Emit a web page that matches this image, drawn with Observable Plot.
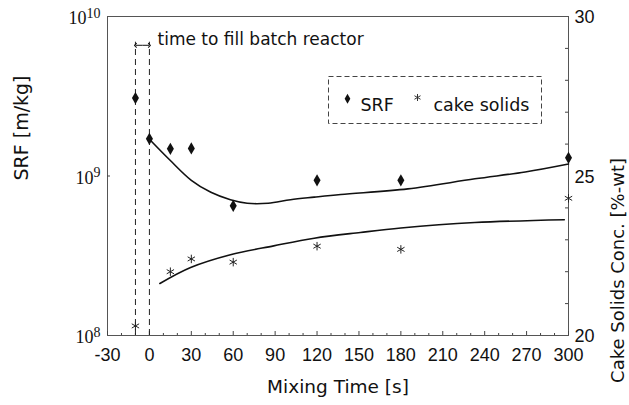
<!DOCTYPE html>
<html><head><meta charset="utf-8">
<script src="https://cdn.jsdelivr.net/npm/d3@7"></script>
<script src="https://cdn.jsdelivr.net/npm/@observablehq/plot@0.6"></script>
<style>body{margin:0;background:#fff}</style>
</head><body><div id="chart"></div>
<script>
// ---- data ----
const srfTime  = [-10, 0, 15, 30, 60, 120, 180, 300];
const srfValue = [3.08e9, 1.71e9, 1.48e9, 1.49e9, 6.5e8, 9.4e8, 9.4e8, 1.30e9];
const cakeTime  = [-10, 15, 30, 60, 120, 180, 300];
const cakeValue = [20.3, 22.0, 22.4, 22.3, 22.8, 22.7, 24.3];
const srfFitTime  = [0, 15, 30, 44, 58, 70, 85, 101, 118, 137, 185, 233, 269, 300];
const srfFitValue = [1.70e9, 1.25e9, 9.4e8, 7.9e8, 7.1e8, 6.75e8, 6.75e8, 7.1e8, 7.37e8, 7.66e8, 8.3e8, 9.6e8, 1.06e9, 1.19e9];
const cakeFitTime  = [7.5, 29.5, 58, 89, 118, 151, 180, 233, 297];
const cakeFitValue = [21.63, 22.13, 22.53, 22.81, 23.05, 23.23, 23.37, 23.54, 23.63];
const xTicks = [-30, 0, 30, 60, 90, 120, 150, 180, 210, 240, 270, 300];
const xMinorTicks = [-20, -10, 10, 20, 40, 50, 70, 80, 100, 110, 130, 140, 160, 170, 190, 200, 220, 230, 250, 260, 280, 290];
const srfTicks = [1e8, 1e9, 1e10];
const cakeTicks = [20, 25, 30];
const cakeMinorTicks = [21, 22, 23, 24, 26, 27, 28, 29];
const fillStart = -10, fillEnd = 0, fillTop = 6.9e9, fillArrowY = 6.6e9;
const legendLabels = ["SRF", "cake solids"];
const xTitle = "Mixing Time [s]";
const yTitle = "SRF [m/kg]";
const y2Title = "Cake Solids Conc. [%-wt]";
const note = "time to fill batch reactor";

// right axis (20–30 %-wt) mapped onto the left log scale
const cakeToY = v => Math.pow(10, 8 + (v - 20) / 5);
const yToCake = y => Math.round(20 + 5 * (Math.log10(y) - 8));

const srf = srfTime.map((t, i) => ({t, v: srfValue[i]}));
const cake = cakeTime.map((t, i) => ({t, v: cakeValue[i]}));
const srfFit = srfFitTime.map((t, i) => ({t, v: srfFitValue[i]}));
const cakeFit = cakeFitTime.map((t, i) => ({t, v: cakeFitValue[i]}));

const W = 629, H = 405, mL = 107, mR = 61, mT = 16, mB = 70;
const innerW = W - mL - mR, innerH = H - mT - mB;
const ink = "#111";
const sans = "DejaVu Sans";

const chart = Plot.plot({
  width: W, height: H,
  marginLeft: mL, marginRight: mR, marginTop: mT, marginBottom: mB,
  style: {background: "#fff", color: ink},
  x: {domain: [-30, 300]},
  y: {type: "log", domain: [1e8, 1e10]},
  marks: [
    Plot.frame({stroke: "#555"}),
    Plot.tickX(xMinorTicks, {x: d => d, insetTop: innerH - 2, stroke: "#444"}),
    Plot.tickX(xTicks, {x: d => d, insetTop: innerH - 4, stroke: "#444"}),
    Plot.tickY(cakeMinorTicks.map(cakeToY), {y: d => d, insetLeft: innerW - 3, stroke: "#444"}),
    Plot.tickY([1e9], {y: d => d, insetRight: innerW - 3, stroke: "#444"}),
    Plot.axisX(xTicks, {tickSize: 0, tickPadding: 13, fontSize: 18, fontFamily: "Liberation Sans", label: null, fill: ink,
      tickFormat: d => String(d)}),
    Plot.axisY(srfTicks, {anchor: "left", tickSize: 0, tickPadding: 7, fontSize: 19, fontFamily: "Liberation Serif",
      tickFormat: d => "10^" + Math.round(Math.log10(d)), label: null, fill: ink, dy: 2}),
    Plot.axisY(cakeTicks.map(cakeToY), {anchor: "right", tickSize: 0, tickPadding: 6, fontSize: 18, fontFamily: "Liberation Sans",
      tickFormat: d => String(yToCake(d)), label: null, fill: ink, dy: 1}),
    // fill-time annotation
    Plot.ruleX([fillStart, fillEnd], {x: d => d, y1: 1e8, y2: fillTop, stroke: "#222", strokeDasharray: "6,4"}),
    Plot.link([fillStart, fillEnd], {x1: (fillStart + fillEnd) / 2, x2: d => d, y1: fillArrowY, y2: fillArrowY, markerEnd: "arrow", stroke: ink}),
    Plot.text([note], {frameAnchor: "top-left", dx: 50, dy: 16.3, textAnchor: "start", fontSize: 17, fontFamily: sans, text: d => d, fill: ink}),
    // fitted curves
    Plot.line(srfFit, {x: "t", y: "v", curve: "catmull-rom", stroke: ink, strokeWidth: 1.6}),
    Plot.line(cakeFit, {x: "t", y: d => cakeToY(d.v), curve: "catmull-rom", stroke: ink, strokeWidth: 1.6}),
    // measurements
    Plot.dot(srf, {x: "t", y: "v", symbol: "diamond", r: 3.7, fill: ink, stroke: "none"}),
    Plot.dot(cake, {x: "t", y: d => cakeToY(d.v), symbol: "asterisk", r: 4, stroke: "#222", strokeWidth: 1}),
    // legend
    Plot.frame({insetLeft: 221, insetRight: 27, insetTop: 60, insetBottom: 212, stroke: "#444", strokeDasharray: "5,3"}),
    Plot.dot([0], {frameAnchor: "top-left", dx: 240, dy: 82.3, symbol: "diamond", r: 3, fill: ink, stroke: "none"}),
    Plot.dot([0], {frameAnchor: "top-left", dx: 310, dy: 81, symbol: "asterisk", r: 3.3, stroke: "#333", strokeWidth: 1}),
    Plot.text([legendLabels[0]], {frameAnchor: "top-left", dx: 253, dy: 82.3, textAnchor: "start", fontSize: 17.5, fontFamily: sans, text: d => d, fill: ink}),
    Plot.text([legendLabels[1]], {frameAnchor: "top-left", dx: 326, dy: 82.3, textAnchor: "start", fontSize: 17.5, fontFamily: sans, text: d => d, fill: ink}),
    // axis titles
    Plot.text([yTitle], {frameAnchor: "left", dx: -85.3, dy: 4.5, rotate: -90, fontSize: 19, fontFamily: sans, text: d => d, fill: ink}),
    Plot.text([y2Title], {frameAnchor: "right", dx: 50, dy: -18, rotate: -90, fontSize: 18, fontFamily: sans, text: d => d, fill: ink}),
    Plot.text([xTitle], {frameAnchor: "bottom", dy: 57, fontSize: 18.5, fontFamily: sans, text: d => d, fill: ink})
  ]
});

// render 10^n tick labels with real superscripts
d3.select(chart).selectAll("text").each(function () {
  const m = this.textContent.match(/^10\^(\d+)$/);
  if (!m) return;
  const sel = d3.select(this);
  sel.text("10")
    .style("font-size", "18px")
    .style("font-family", "'Liberation Serif', serif");
  sel.append("tspan").attr("dy", "-0.45em").style("font-size", "14px").text(m[1]);
});

document.getElementById("chart").appendChild(chart);
</script>
</body></html>
